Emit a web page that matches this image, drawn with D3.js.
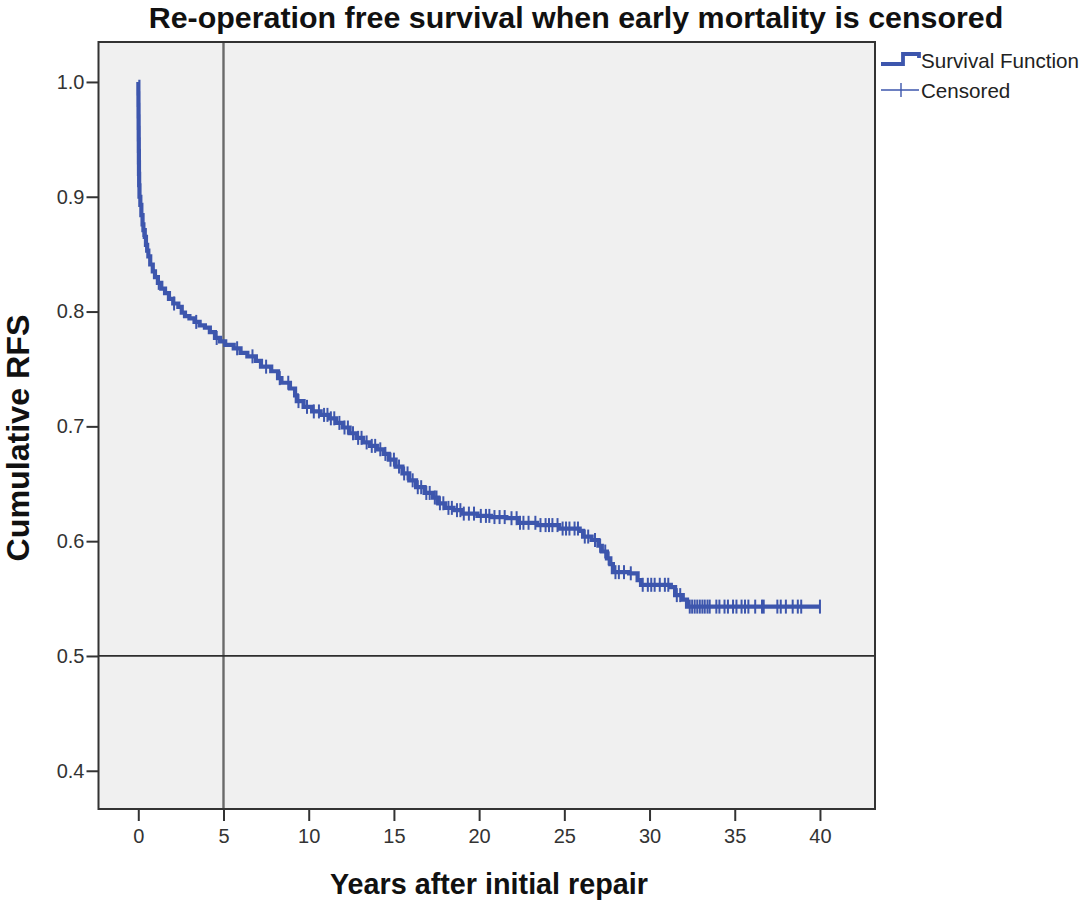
<!DOCTYPE html>
<html>
<head>
<meta charset="utf-8">
<script src="https://cdn.jsdelivr.net/npm/d3@7/dist/d3.min.js"></script>
<style>
  html, body { margin: 0; padding: 0; background: #ffffff; }
  svg { display: block; font-family: "Liberation Sans", Arial, sans-serif; }
</style>
</head>
<body>
<svg id="chart" width="1081" height="900"></svg>
<script>
// ---------------- data ----------------
const titleText = "Re-operation free survival when early mortality is censored";
const xLabel = "Years after initial repair";
const yLabel = "Cumulative RFS";
const legendLabels = ["Survival Function", "Censored"];

const xTicks = [0, 5, 10, 15, 20, 25, 30, 35, 40];
const yTicks = [0.4, 0.5, 0.6, 0.7, 0.8, 0.9, 1.0];

// event times (years) and survival after each step
const stepTimes = [0, 0.005, 0.01, 0.015, 0.02, 0.025, 0.03, 0.035, 0.04, 0.05, 0.07,
  0.12, 0.18, 0.25, 0.3, 0.38, 0.45, 0.52, 0.59, 0.7, 0.85, 0.98, 1.15, 1.35, 1.57, 1.8,
  2.05, 2.35, 2.55, 2.74, 3.0, 3.3, 3.6, 3.91, 4.2, 4.5, 4.8, 5.1, 5.6, 6.0, 6.4, 6.9,
  7.2, 7.8, 8.2, 8.4, 8.9, 9.2, 9.3, 9.7, 10.2, 10.7, 11.2, 11.6, 12.0, 12.4, 12.8, 13.2,
  13.6, 14.0, 14.4, 14.7, 15.1, 15.5, 15.9, 16.3, 16.8, 17.3, 17.6, 18.0, 18.5, 19.0,
  19.9, 20.7, 21.6, 22.3, 23.4, 24.7, 25.9, 26.1, 26.6, 27.0, 27.2, 27.5, 27.7, 27.85,
  28.8, 29.3, 29.5, 31.25, 31.5, 31.95, 32.2];
const survival = [1.0, 0.99, 0.98, 0.97, 0.96, 0.95, 0.94, 0.93, 0.92, 0.91, 0.90,
  0.893, 0.884, 0.876, 0.871, 0.865, 0.858, 0.853, 0.848, 0.841, 0.835, 0.830, 0.825, 0.820, 0.816, 0.811,
  0.807, 0.804, 0.799, 0.796, 0.794, 0.791, 0.788, 0.786, 0.782, 0.777, 0.774, 0.771, 0.768, 0.764, 0.761, 0.757,
  0.752, 0.748, 0.742, 0.738, 0.733, 0.727, 0.722, 0.717, 0.713, 0.710, 0.707, 0.703, 0.699, 0.694, 0.690, 0.686,
  0.683, 0.680, 0.676, 0.671, 0.665, 0.659, 0.653, 0.647, 0.642, 0.638, 0.633, 0.629, 0.627, 0.624,
  0.622, 0.621, 0.620, 0.616, 0.614, 0.611, 0.609, 0.604, 0.601, 0.596, 0.591, 0.585, 0.580, 0.573,
  0.572, 0.566, 0.562, 0.560, 0.553, 0.549, 0.543];
const followUpEnd = 40;

// censored observation times (years)
const censorTimes = [0.3, 1.2, 2.1, 3.4, 4.6, 5.8, 6.7, 7.5, 8.3, 8.8, 9.4, 9.9, 10.3, 10.6,
  10.9, 11.1, 11.3, 11.5, 11.8, 12.1, 12.3, 12.6, 12.9, 13.1, 13.4, 13.7, 13.9, 14.2, 14.5, 14.8,
  15.0, 15.3, 15.6, 15.8, 16.1, 16.4, 16.6, 16.9, 17.1, 17.4, 17.5, 17.7, 17.9, 18.2, 18.4, 18.7,
  18.9, 19.1, 19.4, 19.7, 20.1, 20.4, 20.6, 20.9, 21.2, 21.5, 21.9, 22.2, 22.4, 22.6, 22.9, 23.3, 23.6, 23.9,
  24.1, 24.3, 24.6, 24.9, 25.1, 25.3, 25.6, 25.8, 26.2, 26.4, 26.8, 27.1, 27.4, 27.6, 28.0, 28.2, 28.5,
  28.9, 29.6, 29.9, 30.1, 30.3, 30.6, 30.9, 31.1, 31.6, 31.8,
  32.36, 32.5, 32.65, 32.8, 32.95, 33.1, 33.24, 33.4, 33.53, 33.92, 34.1, 34.4, 34.6, 34.9, 35.1, 35.4, 35.6, 35.8,
  36.2, 36.6, 36.7, 37.5, 37.7, 38.0, 38.4, 38.7, 38.9, 40.0];

// reference lines
const refX = 5;
const refY = 0.5;

// ---------------- layout ----------------
const svg = d3.select("#chart");
const plot = { left: 98.5, right: 875, top: 42, bottom: 809 };
const blue = "#3d56ad";

const x = d3.scaleLinear().domain([-2.335, 43.23]).range([plot.left, plot.right]);
const y = d3.scaleLinear().domain([0.3667, 1.0348]).range([plot.bottom, plot.top]);

// plot background
svg.append("rect")
  .attr("x", plot.left).attr("y", plot.top)
  .attr("width", plot.right - plot.left).attr("height", plot.bottom - plot.top)
  .attr("fill", "#f0f0f0");

// reference lines
svg.append("line")
  .attr("x1", x(refX)).attr("x2", x(refX))
  .attr("y1", plot.top).attr("y2", plot.bottom)
  .attr("stroke", "#6a6a6a").attr("stroke-width", 2.4);
svg.append("line")
  .attr("x1", plot.left).attr("x2", plot.right)
  .attr("y1", y(refY)).attr("y2", y(refY))
  .attr("stroke", "#2e2e2e").attr("stroke-width", 1.8);

// survival step curve
const pts = stepTimes.map((t, i) => [t, survival[i]]);
pts.push([followUpEnd, survival[survival.length - 1]]);
const line = d3.line().x(d => x(d[0])).y(d => y(d[1])).curve(d3.curveStepAfter);
svg.append("path")
  .attr("d", line(pts))
  .attr("fill", "none")
  .attr("stroke", blue)
  .attr("stroke-width", 4.2)
  .attr("stroke-linejoin", "miter");

// censor marks
function survAt(t) {
  let s = survival[0];
  for (let i = 0; i < stepTimes.length; i++) { if (stepTimes[i] <= t) s = survival[i]; }
  return s;
}
svg.append("g").selectAll("line")
  .data(censorTimes)
  .join("line")
  .attr("x1", d => x(d)).attr("x2", d => x(d))
  .attr("y1", d => y(survAt(d)) - 7).attr("y2", d => y(survAt(d)) + 7)
  .attr("stroke", blue).attr("stroke-width", 2);

// frame
svg.append("rect")
  .attr("x", plot.left).attr("y", plot.top)
  .attr("width", plot.right - plot.left).attr("height", plot.bottom - plot.top)
  .attr("fill", "none").attr("stroke", "#333").attr("stroke-width", 2);

// x axis
const xAxis = d3.axisBottom(x).tickValues(xTicks).tickSize(12).tickPadding(8).tickFormat(d3.format("d"));
const gx = svg.append("g").attr("transform", `translate(0,${plot.bottom})`).call(xAxis);
gx.select(".domain").remove();
gx.selectAll(".tick line").attr("stroke", "#333").attr("stroke-width", 2);
gx.selectAll(".tick text").attr("fill", "#333").attr("font-size", 20)
  .attr("font-family", "'Liberation Sans', Arial, sans-serif");

// y axis
const yAxis = d3.axisLeft(y).tickValues(yTicks).tickSize(12).tickPadding(2).tickFormat(d3.format(".1f"));
const gy = svg.append("g").attr("transform", `translate(${plot.left},0)`).call(yAxis);
gy.select(".domain").remove();
gy.selectAll(".tick line").attr("stroke", "#333").attr("stroke-width", 2);
gy.selectAll(".tick text").attr("fill", "#333").attr("font-size", 20)
  .attr("font-family", "'Liberation Sans', Arial, sans-serif");

// text helper: fit to target width
function fitText(sel, target) {
  const w = sel.node().getComputedTextLength();
  const fs = parseFloat(sel.attr("font-size"));
  sel.attr("font-size", (fs * target / w).toFixed(2));
}

// title
const title = svg.append("text")
  .attr("x", 576).attr("y", 28)
  .attr("text-anchor", "middle")
  .attr("font-weight", "bold").attr("font-size", 24).attr("fill", "#111")
  .text(titleText);
fitText(title, 855);

// x label
const xl = svg.append("text")
  .attr("x", 489).attr("y", 894)
  .attr("text-anchor", "middle")
  .attr("font-weight", "bold").attr("font-size", 22).attr("fill", "#111")
  .text(xLabel);
fitText(xl, 318);

// y label
const yl = svg.append("text")
  .attr("transform", "translate(29,438) rotate(-90)")
  .attr("text-anchor", "middle")
  .attr("font-weight", "bold").attr("font-size", 22).attr("fill", "#111")
  .text(yLabel);
fitText(yl, 247);

// legend
const lg = svg.append("g");
// survival function sample (step symbol)
lg.append("path")
  .attr("d", `M881,64 L903,64 L903,54 L919,54 L919,58`)
  .attr("fill", "none").attr("stroke", blue).attr("stroke-width", 3.8);
const lt1 = lg.append("text").attr("x", 921).attr("y", 68)
  .attr("font-size", 20).attr("fill", "#222").text(legendLabels[0]);
fitText(lt1, 158);
// censored sample
lg.append("line").attr("x1", 881).attr("x2", 919).attr("y1", 90).attr("y2", 90)
  .attr("stroke", blue).attr("stroke-width", 1.4);
lg.append("line").attr("x1", 901).attr("x2", 901).attr("y1", 83).attr("y2", 97)
  .attr("stroke", blue).attr("stroke-width", 1.4);
lg.append("text").attr("x", 921).attr("y", 98)
  .attr("font-size", lt1.attr("font-size")).attr("fill", "#222").text(legendLabels[1]);
</script>
</body>
</html>
